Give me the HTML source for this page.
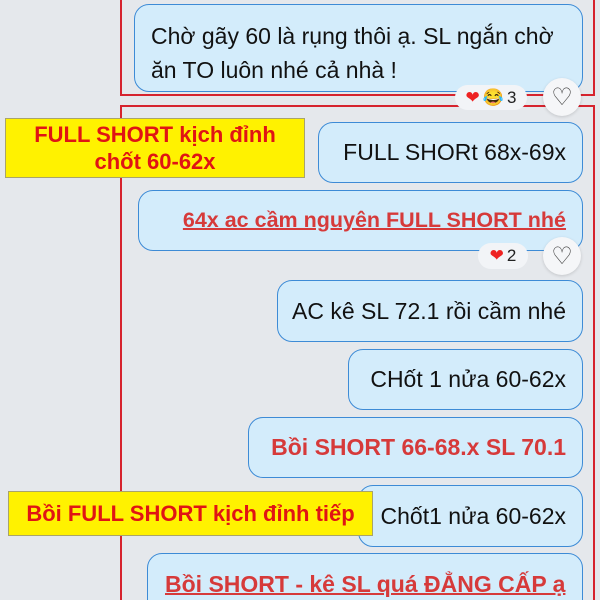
<!DOCTYPE html>
<html><head><meta charset="utf-8"><style>
html,body{margin:0;padding:0;width:600px;height:600px;overflow:hidden}
body{background:#e5e8ec;position:relative;font-family:"Liberation Sans",sans-serif}
.fr{position:absolute;border:2px solid #d6232e;box-sizing:border-box}
.b{position:absolute;background:#d3ecfb;border:1.5px solid #3d8bd6;border-radius:15px;box-sizing:border-box;font-size:23px;color:#111;display:flex;align-items:center;justify-content:flex-end;padding:0 16px;white-space:nowrap;overflow:hidden}
.red{color:#d63a3a}
.u{text-decoration:underline;text-decoration-thickness:2px}
.y{position:absolute;background:#fff200;border:1.5px solid #a9a46a;box-sizing:border-box;color:#e01414;font-weight:bold;font-size:22px;text-align:center;display:flex;align-items:center;justify-content:center;line-height:27px;white-space:nowrap}
.pill{position:absolute;background:#f2f4f7;border-radius:13px;font-size:17px;color:#222;display:flex;align-items:center;justify-content:center;gap:3px}
.hc{position:absolute;width:38px;height:38px;border-radius:50%;background:#f5f6f8;box-shadow:0 1px 3px rgba(0,0,0,.15);color:#444;font-size:24px;display:flex;align-items:center;justify-content:center}
</style></head><body>
<div class="fr" style="left:120px;top:-4px;width:475px;height:100px"></div>
<div class="fr" style="left:120px;top:105px;width:475px;height:510px"></div>

<div class="b" style="left:134px;top:4px;width:449px;height:88px;justify-content:flex-start;align-items:flex-start;white-space:normal;line-height:34px;padding-left:16px;padding-right:10px;padding-top:14px">Chờ gãy 60 là rụng thôi ạ. SL ngắn chờ ăn TO luôn nhé cả nhà !</div>
<div class="pill" style="left:455px;top:85px;width:72px;height:25px"><span style="color:#e22">❤</span><span>😂</span><span>3</span></div>
<div class="hc" style="left:543px;top:78px">♡</div>

<div class="y" style="left:5px;top:118px;width:300px;height:60px">FULL SHORT kịch đỉnh<br>chốt 60-62x</div>
<div class="b" style="left:318px;top:122px;width:265px;height:61px">FULL SHORt 68x-69x</div>
<div class="b red u" style="left:138px;top:190px;width:445px;height:61px;font-weight:bold;font-size:21.5px">64x ac cầm nguyên FULL SHORT nhé</div>
<div class="pill" style="left:478px;top:243px;width:50px;height:26px"><span style="color:#e22">❤</span><span>2</span></div>
<div class="hc" style="left:543px;top:237px">♡</div>

<div class="b" style="left:277px;top:280px;width:306px;height:62px">AC kê SL 72.1 rồi cầm nhé</div>
<div class="b" style="left:348px;top:349px;width:235px;height:61px">CHốt 1 nửa 60-62x</div>
<div class="b red" style="left:248px;top:417px;width:335px;height:61px;font-weight:bold">Bồi SHORT 66-68.x SL 70.1</div>
<div class="b" style="left:358px;top:485px;width:225px;height:62px">Chốt1 nửa 60-62x</div>
<div class="y" style="left:8px;top:491px;width:365px;height:45px">Bồi FULL SHORT kịch đỉnh tiếp</div>
<div class="b red u" style="left:147px;top:553px;width:436px;height:70px;align-items:flex-start;padding-top:17px;font-weight:bold;justify-content:flex-start;padding-left:17px">Bồi SHORT - kê SL quá ĐẲNG CẤP ạ</div>
</body></html>
